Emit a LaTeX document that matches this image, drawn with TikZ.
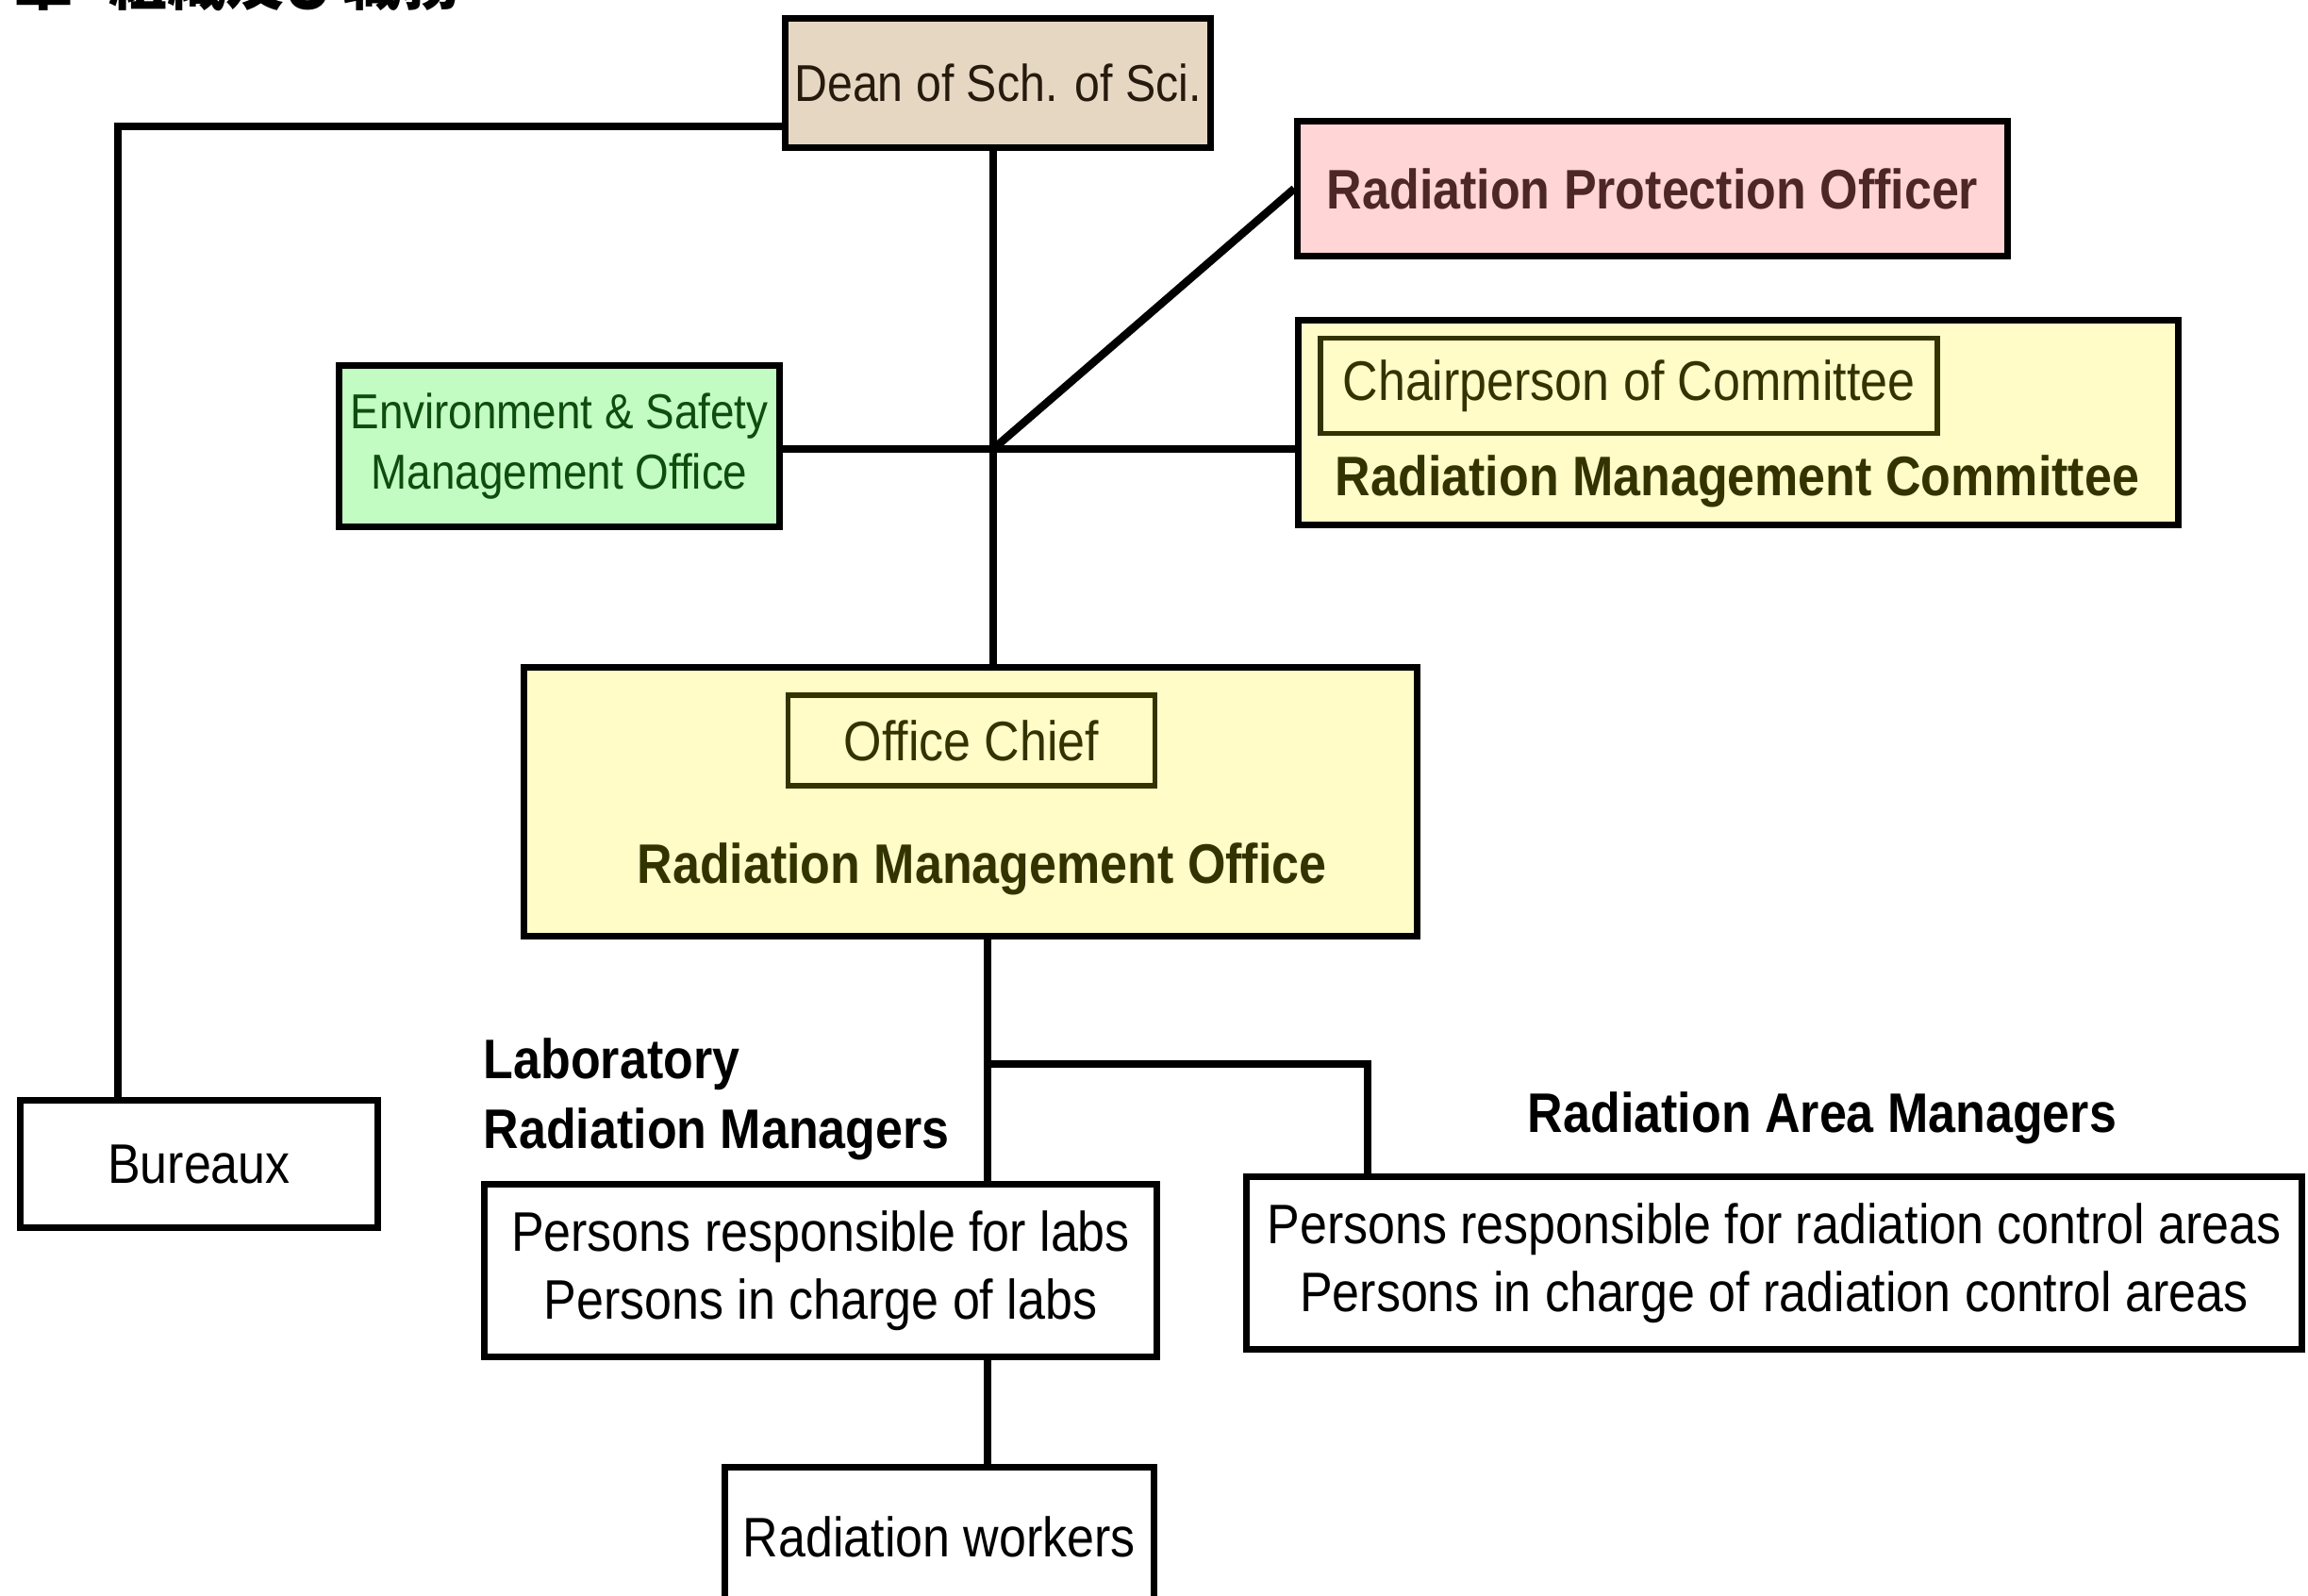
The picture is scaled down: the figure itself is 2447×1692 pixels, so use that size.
\documentclass[tikz,border=0pt]{standalone}
\usepackage{fontspec}
\setmainfont[FakeStretch=0.88]{Liberation Sans}
\newfontfamily\jpfont{Noto Sans CJK JP}
\definecolor{deanfill}{HTML}{E6D7C3}
\definecolor{deantext}{HTML}{261A0D}
\definecolor{pinkfill}{HTML}{FFD5D5}
\definecolor{pinktext}{HTML}{4D2626}
\definecolor{greenfill}{HTML}{C3FCC3}
\definecolor{greentext}{HTML}{0D4D0D}
\definecolor{yelfill}{HTML}{FFFCC8}
\definecolor{olive}{HTML}{333300}
\begin{document}
\begin{tikzpicture}[x=0.01cm,y=-0.01cm,
  box/.style={draw=black, line width=2pt, rectangle, inner sep=0pt, align=center,
    font=\fontsize{16.8pt}{20.5pt}\selectfont},
  innerbox/.style={draw=olive, line width=1.6pt, rectangle, inner sep=0pt, align=center,
    text=olive, font=\fontsize{16.8pt}{20.5pt}\selectfont},
  conn/.style={line width=2.4pt, line cap=rect},
  boldtxt/.style={inner sep=0pt, align=center, font=\fontsize{16.8pt}{21pt}\selectfont\bfseries},
  jptxt/.style={anchor=base west, inner sep=0pt, font=\jpfont\bfseries\fontsize{17.6pt}{20pt}\selectfont}]
\useasboundingbox (0,0) rectangle (2447,1692);
\fill[white] (0,0) rectangle (2447,1692);
\begin{scope}
\clip (0,0) rectangle (2447,1692);

% cut-off heading
\node[jptxt] (hd1) at (15,6) {章};
\node[jptxt] (hd2) at (115,6) {組織及び職務};

% boxes
\node[box, fill=deanfill, text=deantext, minimum width=4.50cm, minimum height=1.36cm,
  font=\fontsize{15.6pt}{19pt}\selectfont] (dean) at (1058,88) {Dean of Sch. of Sci.};
\node[box, fill=pinkfill, text=pinktext, minimum width=7.52cm, minimum height=1.42cm,
  font=\fontsize{16.8pt}{20.5pt}\selectfont\bfseries] (rpo) at (1752,200) {Radiation Protection Officer};
\node[box, fill=greenfill, text=greentext, minimum width=4.66cm, minimum height=1.71cm,
  font=\fontsize{14.8pt}{18.2pt}\selectfont] (esmo) at (593,473) {Environment \& Safety\\Management Office};
\node[box, fill=yelfill, minimum width=9.33cm, minimum height=2.16cm] (rmc) at (1843,448) {};
\node[innerbox, minimum width=6.54cm, minimum height=1.01cm] (chair) at (1727,409) {Chairperson of Committee};
\node[boldtxt, text=olive] (rmclabel) at (1842,510) {Radiation Management Committee};

\node[box, fill=yelfill, minimum width=9.47cm, minimum height=2.85cm] (rmo) at (1029,850) {};
\node[innerbox, minimum width=3.89cm, minimum height=0.96cm] (chief) at (1030,785) {Office Chief};
\node[boldtxt, text=olive] (rmolabel) at (1041,921) {Radiation Management Office};

\node[box, minimum width=3.78cm, minimum height=1.35cm] (bureaux) at (211,1234) {Bureaux};
\node[box, minimum width=7.13cm, minimum height=1.83cm] (labs) at (870,1347)
  {Persons responsible for labs\\Persons in charge of labs};
\node[box, minimum width=11.18cm, minimum height=1.83cm] (area) at (1881,1339)
  {Persons responsible for radiation control areas\\Persons in charge of radiation control areas};
\node[box, minimum width=4.54cm, minimum height=1.46cm] (workers) at (996,1629) {Radiation workers};

\node[boldtxt, anchor=west, align=left] (lablabel) at (512,1165) {Laboratory\\Radiation Managers};
\node[boldtxt] (arealabel) at (1932,1185) {Radiation Area Managers};

% connectors
\coordinate (bl) at (125,134);
\coordinate (J) at (1053,476);
\coordinate (K) at (1047,1128);
\coordinate (A) at (1450,1128);
\draw[conn] (dean.west |- bl) -| (bureaux.north -| bl);
\draw[conn] (dean.south -| J) -- (rmo.north -| J);
\draw[conn] (esmo.east |- J) -- (rmc.west |- J);
\draw[conn, line cap=butt] (J) -- (rpo.west);
\draw[conn] (rmo.south -| K) -- (labs.north -| K);
\draw[conn] (K) -| (area.north -| A);
\draw[conn] (labs.south -| K) -- (workers.north -| K);
\end{scope}
\end{tikzpicture}
\end{document}
